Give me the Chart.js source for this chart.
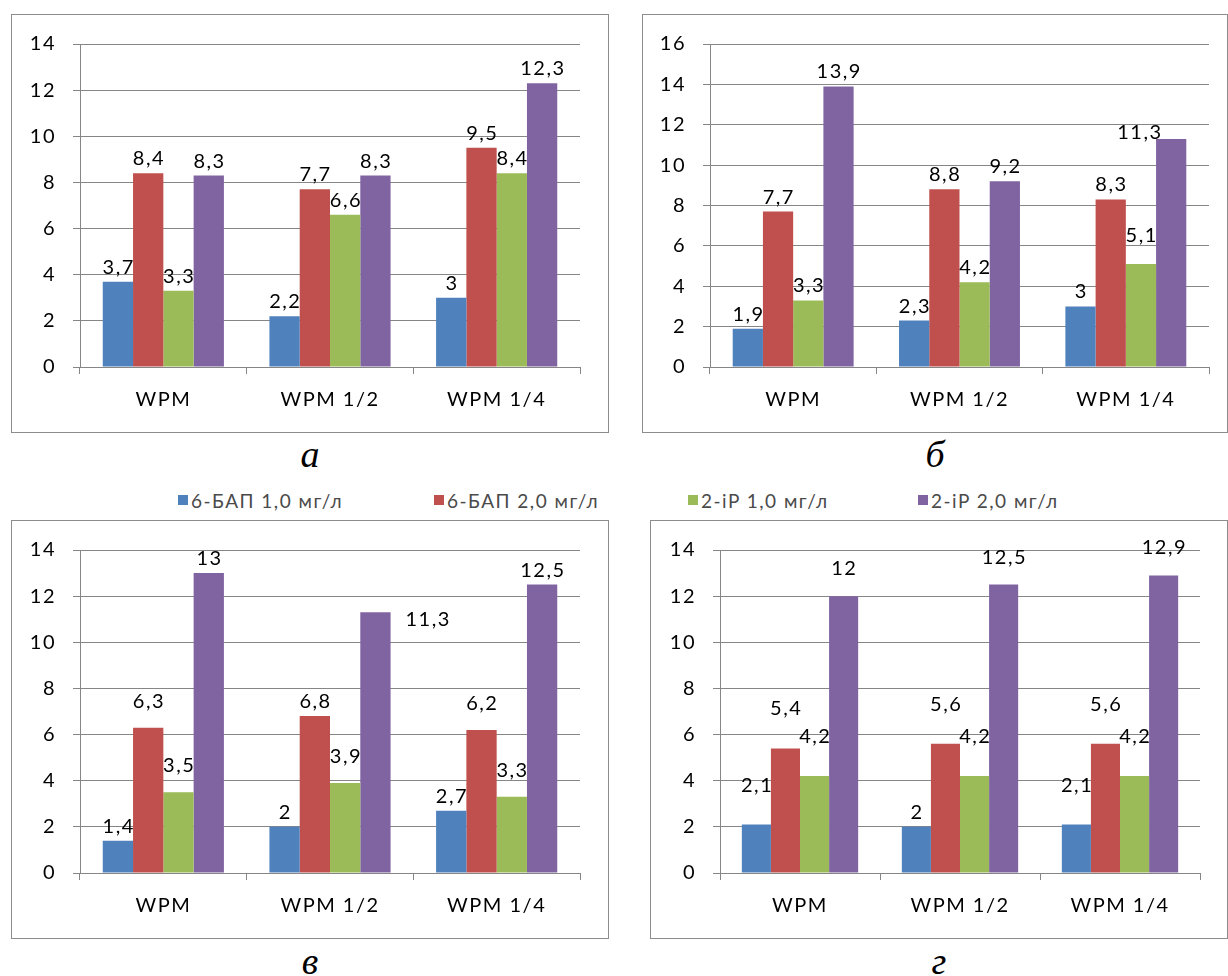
<!DOCTYPE html>
<html lang="ru">
<head>
  <meta charset="UTF-8" />
  <title>WPM: 6-БАП и 2-iP</title>
  <script src="https://cdn.jsdelivr.net/npm/chart.js"></script>
  <style>
    body { margin: 0; background: #fff; width: 1228px; height: 976px; position: relative; overflow: hidden; font-family: Lato, Arial, sans-serif; }
    .panel { position: absolute; box-sizing: border-box; border: 1px solid #8c8c8c; background: #fff; }
    .panel canvas { position: absolute; left: 0; top: 0; }
    .cap { position: absolute; width: 80px; margin-left: -40px; text-align: center; font: italic 38px/42px "Liberation Serif", "Times New Roman", serif; color: #000; }
    #legend { position: absolute; left: 0; top: 487px; height: 26px; width: 1228px; font-size: 19px; letter-spacing: 1.5px; color: #4a4a4a; white-space: nowrap; }
    #legend .item { position: absolute; top: 0; height: 26px; display: flex; align-items: center; }
    #legend .sw { width: 10px; height: 10px; margin-right: 3px; }
  </style>
</head>
<body>
  <div class="panel" id="pa"><canvas id="ca"></canvas></div>
  <div class="panel" id="pb"><canvas id="cb"></canvas></div>
  <div class="panel" id="pc"><canvas id="cc"></canvas></div>
  <div class="panel" id="pd"><canvas id="cd"></canvas></div>
  <div class="cap" style="left:310px;top:433px">а</div>
  <div class="cap" style="left:935px;top:433px">б</div>
  <div class="cap" style="left:310px;top:940px">в</div>
  <div class="cap" style="left:939px;top:940px">г</div>
  <div id="legend"></div>

  <script>
    const categories = ['WPM', 'WPM 1/2', 'WPM 1/4'];
    const seriesNames = ['6-БАП 1,0 мг/л', '6-БАП 2,0 мг/л', '2-iP 1,0 мг/л', '2-iP 2,0 мг/л'];
    const seriesColors = ['#4F81BD', '#C0504D', '#9BBB59', '#8064A2'];

    // one row per series, one value per category
    const valuesA = [[3.7, 2.2, 3], [8.4, 7.7, 9.5], [3.3, 6.6, 8.4], [8.3, 8.3, 12.3]];
    const valuesB = [[1.9, 2.3, 3], [7.7, 8.8, 8.3], [3.3, 4.2, 5.1], [13.9, 9.2, 11.3]];
    const valuesC = [[1.4, 2, 2.7], [6.3, 6.8, 6.2], [3.5, 3.9, 3.3], [13, 11.3, 12.5]];
    const valuesD = [[2.1, 2, 2.1], [5.4, 5.6, 5.6], [4.2, 4.2, 4.2], [12, 12.5, 12.9]];
    const yMaxA = 14, yMaxB = 16, yMaxC = 14, yMaxD = 14;

    const FONT = 'Lato, Arial, sans-serif';
    const GRID = '#868686';

    // labels moved off their default spot: 'series-category' -> [dx, dy]
    const labelNudge = {
      cb: { '3-2': [-32, 8], '2-2': [0, -14] },
      cc: { '3-1': [52, 22], '1-0': [0, -12], '1-2': [0, -12], '2-0': [0, -12], '2-1': [0, -12], '2-2': [0, -12] },
      cd: {
        '0-0': [0, -25], '0-2': [0, -25],
        '1-0': [0, -25], '1-1': [0, -25], '1-2': [0, -25],
        '2-0': [0, -25], '2-1': [0, -25], '2-2': [0, -25],
        '3-0': [0, -13], '3-1': [0, -13], '3-2': [0, -13]
      }
    };

    // wider letter spacing for all canvas text
    const spacing = {
      id: 'spacing',
      beforeDraw(chart) { chart.ctx.letterSpacing = '1.5px'; }
    };

    // value labels above each bar, decimal comma
    const barLabels = {
      id: 'barLabels',
      afterDatasetsDraw(chart) {
        const ctx = chart.ctx;
        const nudge = labelNudge[chart.canvas.id] || {};
        ctx.save();
        ctx.letterSpacing = '1.5px';
        ctx.font = '20px ' + FONT;
        ctx.fillStyle = '#000';
        ctx.textAlign = 'center';
        ctx.textBaseline = 'alphabetic';
        chart.data.datasets.forEach((ds, i) => {
          chart.getDatasetMeta(i).data.forEach((bar, j) => {
            const txt = String(ds.data[j]).replace('.', ',');
            const d = nudge[i + '-' + j] || [0, 0];
            ctx.fillText(txt, bar.x + d[0] + 0.75, bar.y - 8 + d[1]);
          });
        });
        ctx.restore();
      }
    };

    // box = panel frame, plot = axis rectangle, both in page pixels
    function drawPanel(id, canvasId, values, yMax, box, plot) {
      const el = document.getElementById(id);
      const w = box[2] - box[0], h = box[3] - box[1];
      el.style.left = box[0] + 'px';
      el.style.top = box[1] + 'px';
      el.style.width = w + 'px';
      el.style.height = h + 'px';
      const cv = document.getElementById(canvasId);
      const cw = w - 2, ch = h - 2;
      cv.width = cw; cv.height = ch;
      const ox = box[0] + 1, oy = box[1] + 1;
      const yWidth = plot[0] - ox;
      const xHeight = (oy + ch) - plot[3];

      new Chart(cv.getContext('2d'), {
        type: 'bar',
        data: {
          labels: categories,
          datasets: values.map((v, i) => ({
            label: seriesNames[i],
            data: v,
            backgroundColor: seriesColors[i],
            borderWidth: 0,
            categoryPercentage: 0.727,
            barPercentage: 1
          }))
        },
        options: {
          responsive: false,
          animation: false,
          devicePixelRatio: 1,
          layout: { padding: { left: 0, bottom: 0, top: plot[1] - oy, right: (ox + cw) - plot[2] } },
          plugins: { legend: { display: false }, tooltip: { enabled: false } },
          scales: {
            x: {
              offset: true,
              grid: { offset: true, drawOnChartArea: false, drawTicks: true, tickLength: 7, color: GRID, lineWidth: 1 },
              border: { display: true, color: GRID, width: 1 },
              ticks: { font: { family: FONT, size: 20 }, color: '#000', padding: 14 },
              afterFit: s => { s.height = xHeight; }
            },
            y: {
              min: 0,
              max: yMax,
              grid: { color: GRID, lineWidth: 1, drawTicks: true, tickLength: 7 },
              border: { display: true, color: GRID, width: 1 },
              ticks: { stepSize: 2, font: { family: FONT, size: 20 }, color: '#000', padding: 17 },
              afterFit: s => { s.width = yWidth; }
            }
          }
        },
        plugins: [spacing, barLabels]
      });
    }

    drawPanel('pa', 'ca', valuesA, yMaxA, [11, 14, 609, 433], [80, 43, 580, 367]);
    drawPanel('pb', 'cb', valuesB, yMaxB, [642, 14, 1228, 433], [710, 43, 1209, 367]);
    drawPanel('pc', 'cc', valuesC, yMaxC, [11, 520, 609, 939], [80, 549, 580, 873]);
    drawPanel('pd', 'cd', valuesD, yMaxD, [650, 520, 1228, 939], [720, 549, 1200, 873]);

    // shared legend, one entry per series
    const legendLeft = [178, 434, 688, 918];
    const legend = document.getElementById('legend');
    seriesNames.forEach((name, i) => {
      const item = document.createElement('div');
      item.className = 'item';
      item.style.left = legendLeft[i] + 'px';
      const sw = document.createElement('span');
      sw.className = 'sw';
      sw.style.background = seriesColors[i];
      item.appendChild(sw);
      item.appendChild(document.createTextNode(name));
      legend.appendChild(item);
    });
  </script>
</body>
</html>
